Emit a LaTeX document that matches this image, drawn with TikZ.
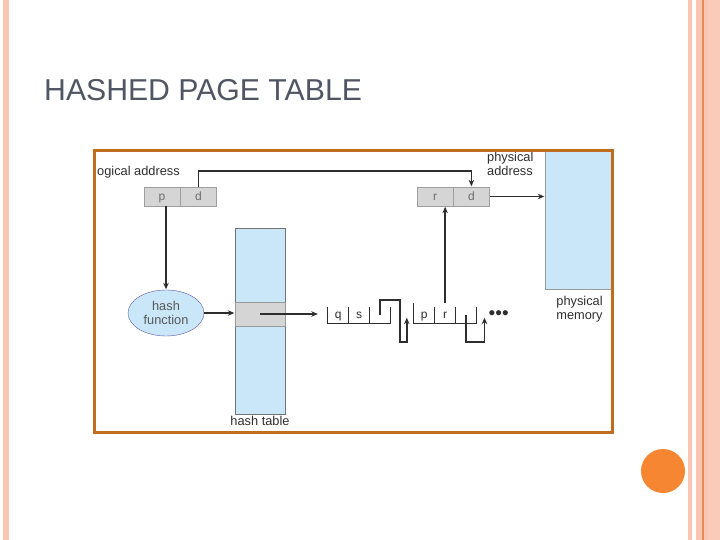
\documentclass[tikz,border=0pt]{standalone}
\usepackage{fontspec}
\setmainfont{Liberation Sans}
\usetikzlibrary{positioning,shapes.geometric,arrows.meta}
\definecolor{peach}{HTML}{F8C6B3}
\definecolor{peachdark}{HTML}{FACBB9}
\definecolor{rule}{HTML}{E58A55}
\definecolor{dotorange}{HTML}{F68631}
\definecolor{framebrown}{HTML}{C06C1E}
\definecolor{memblue}{HTML}{C9E7F8}
\definecolor{cellgray}{HTML}{D5D5D5}
\definecolor{titlegray}{HTML}{4F5562}
\definecolor{ink}{HTML}{2E2E2E}

\begin{document}
\begin{tikzpicture}[x=1pt,y=-1pt,>={Stealth[length=6.5pt,width=5.5pt]},
    lbl/.style={font=\fontsize{12.8}{14}\selectfont,text=ink,inner sep=1pt},
    addr cell/.style={draw=gray!75,fill=cellgray,minimum width=36,minimum height=19,inner sep=0,text height=9.5pt,text depth=1.5pt,font=\fontsize{12}{14}\selectfont,text=gray!85!black},
    chain cell/.style={minimum width=20.5,minimum height=16,inner sep=0,text height=8.5pt,text depth=2.5pt,font=\fontsize{12}{14}\selectfont,text=ink},
    blue box/.style={draw=gray!80,fill=memblue,inner sep=0},
    hash node/.style={ellipse,draw=gray!70!blue,fill=memblue,minimum width=76,minimum height=46,inner sep=0,align=center,font=\fontsize{12.8}{14}\selectfont,text=ink!80},
    ptr/.style={->,draw=ink,line width=1.5pt,shorten >=0.5pt},
    tick/.style={draw=ink,line width=1pt}]
  \useasboundingbox (0,0) rectangle (720,540);

  % slide decoration
  \fill[peach] (3,0) rectangle (9,540);
  \fill[peach] (688,0) rectangle (692,540);
  \fill[peach] (696,0) rectangle (702,540);
  \fill[rule] (702,0) rectangle (703.5,540);
  \fill[peach] (703.5,0) rectangle (708,540);
  \fill[peachdark] (708,0) rectangle (720,540);
  \fill[dotorange] (663,471) circle (22);
  \node[anchor=base west,inner sep=0,text=titlegray,font=\fontsize{30.2}{32}\selectfont] (title) at (44,101) {HASHED PAGE TABLE};

  % memory, tables and addresses
  \node[blue box,minimum width=66,minimum height=140] (mem) at (578,219.5) {};
  \node[blue box,draw=gray!90!black,minimum width=50,minimum height=186] (ht) at (260,321) {};
  \node[draw=gray!80,fill=cellgray,minimum width=50,minimum height=24,inner sep=0] (slot) at (260,314) {};
  \node[addr cell] (p) at (162,196.5) {p};
  \node[addr cell,right=0pt of p] (d) {d};
  \node[addr cell] (r) at (435,196.5) {r};
  \node[addr cell,right=0pt of r] (d2) {d};
  \node[hash node] (hf) at (166,313) {hash\\function};

  % chain entries
  \node[chain cell] (q1) at (338.25,315) {q};
  \node[chain cell,right=0pt of q1] (s1) {s};
  \node[chain cell,right=0pt of s1] (n1) {};
  \node[chain cell] (p2) at (424.25,315) {p};
  \node[chain cell,right=0pt of p2] (r2) {r};
  \node[chain cell,right=0pt of r2] (n2) {};
  \node[inner sep=0,text=ink,font=\fontsize{19}{20}\selectfont,right=12pt of n2] (dots) {•••};
  \coordinate (in2) at ([shift={(-7,-6)}]p2.south west);
  \coordinate (in3) at ([shift={(8,-6)}]n2.south east);

  \path[tick] (q1.north west) -- (q1.south west) -- (n1.south east) -- (n1.north east)
              (q1.north east) -- (q1.south east) (s1.north east) -- (s1.south east);
  \path[tick] ([yshift=4pt]p2.north west) -- (p2.south west) -- (n2.south east) -- (n2.north east)
              (p2.north east) -- (p2.south east) (r2.north east) -- (r2.south east);

  % labels
  \node[lbl,anchor=west] (la) at (96,172) {ogical address};
  \node[lbl,anchor=west,align=left] (pa) at (486,164) {physical\\address};
  \node[lbl,align=center] (pm) at (579.5,309) {physical\\memory};
  \node[lbl,below=1pt of ht] (htl) {hash table};

  % connectors
  \draw[ptr] (d.north) -- ++(0,-16) -| (d2.north);
  \draw[ptr] (d2.east) -- (d2.east -| mem.west);
  \draw[ptr] (p.south -| hf.north) -- (hf.north);
  \draw[ptr] (hf.east) -- (hf.east -| ht.west);
  \draw[ptr,shorten >=10pt] (slot.center) -- (slot.center -| q1.west);
  \draw[ptr] (n1.center) -- ++(0,-15) -| ++(20,42) -| (in2);
  \draw[ptr] (n2.center) -- ++(0,27) -| (in3);
  \draw[ptr] ([yshift=4pt]r2.north) -- (r2.north |- r.south);

  \draw[framebrown,line width=3.2pt] (94.5,150.5) rectangle (612.5,432.5);
\end{tikzpicture}
\end{document}
